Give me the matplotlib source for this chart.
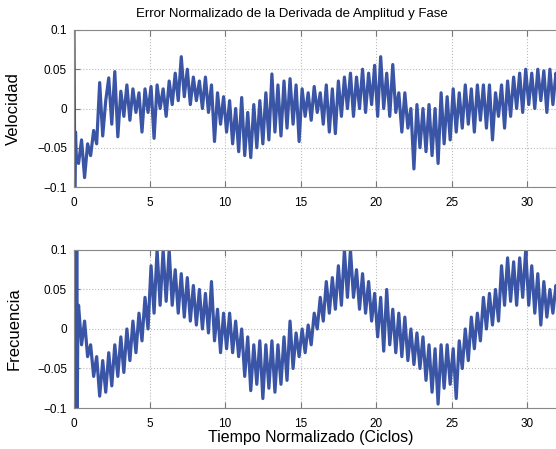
import numpy as np
import matplotlib
matplotlib.use("Agg")
import matplotlib.pyplot as plt

plt.rcParams['font.family'] = ['Liberation Sans', 'DejaVu Sans']

# ---- data ----
# first few samples: the start-up transient
t_start_vel = [0.0, 0.05, 0.1, 0.15]
vel_start = [0.1, -0.1, -0.03, -0.06]
t_start_freq = [0.0, 0.03, 0.06, 0.09, 0.12, 0.15, 0.18, 0.21, 0.25]
freq_start = [0.12, -0.12, 0.12, -0.12, 0.12, -0.12, 0.12, -0.12, 0.0]

# main samples every 0.2 cycles from 0.3 to 32.1
t_main = np.linspace(0.3, 32.1, 160)

velocidad = [
    -0.07, -0.04, -0.088, -0.045, -0.06, -0.028, -0.045, 0.033, -0.035, 0.01,
    0.039, -0.02, 0.047, -0.036, 0.022, -0.01, 0.03, -0.015, 0.025, -0.005,
    0.02, -0.03, 0.025, -0.005, 0.028, -0.038, 0.03, 0.0, 0.025, -0.01,
    0.035, 0.005, 0.045, 0.01, 0.066, 0.015, 0.05, 0.005, 0.04, 0.01,
    0.035, 0.0, 0.04, -0.005, 0.03, -0.042, 0.02, -0.02, 0.015, -0.03,
    0.01, -0.045, 0.0, -0.055, 0.014, -0.06, -0.005, -0.0625, 0.005, -0.05,
    0.01, -0.045, 0.02, -0.04, 0.044, -0.03, 0.03, -0.035, 0.035, -0.025,
    0.038, -0.02, 0.03, -0.042, 0.025, -0.01, 0.02, -0.015, 0.028, -0.005,
    0.02, -0.02, 0.03, -0.03, 0.025, -0.032, 0.035, -0.01, 0.04, 0.0,
    0.045, -0.01, 0.04, 0.0, 0.05, -0.005, 0.045, 0.005, 0.055, -0.01,
    0.066, 0.0, 0.045, -0.01, 0.056, -0.005, 0.02, -0.03, 0.02, -0.025,
    0.0, -0.077, 0.005, -0.05, 0.0, -0.055, 0.005, -0.06, 0.0, -0.07,
    0.02, -0.045, 0.015, -0.04, 0.025, -0.03, 0.02, -0.025, 0.03, -0.02,
    0.025, -0.03, 0.03, -0.015, 0.03, -0.025, 0.03, -0.04, 0.02, -0.01,
    0.03, -0.025, 0.035, -0.01, 0.04, 0.0, 0.045, -0.005, 0.05, 0.005,
    0.045, 0.0, 0.05, 0.01, 0.048, -0.005, 0.05, 0.005, 0.045, 0.02,
]

frecuencia = [
    0.03, -0.02, 0.01, -0.035, -0.02, -0.06, -0.035, -0.085, -0.04, -0.08,
    -0.03, -0.072, -0.02, -0.06, -0.01, -0.055, 0.0, -0.04, 0.01, -0.03,
    0.02, -0.015, 0.04, 0.0, 0.08, 0.02, 0.1, 0.03, 0.1, 0.035,
    0.1, 0.03, 0.075, 0.02, 0.07, 0.015, 0.065, 0.01, 0.055, 0.005,
    0.05, 0.0, 0.045, -0.005, 0.06, -0.015, 0.025, -0.03, 0.02, -0.025,
    0.02, -0.03, 0.01, -0.035, 0.0, -0.06, -0.01, -0.078, -0.02, -0.07,
    -0.015, -0.088, -0.02, -0.075, -0.015, -0.08, -0.02, -0.07, -0.01, -0.065,
    0.01, -0.05, -0.005, -0.035, 0.0, -0.03, 0.005, -0.02, 0.02, 0.0,
    0.04, 0.01, 0.06, 0.02, 0.065, 0.025, 0.08, 0.03, 0.1, 0.04,
    0.1, 0.04, 0.075, 0.025, 0.07, 0.02, 0.06, 0.01, 0.045, -0.01,
    0.04, -0.028, 0.05, -0.02, 0.025, -0.03, 0.02, -0.035, 0.015, -0.04,
    0.0, -0.045, -0.005, -0.05, -0.01, -0.065, -0.02, -0.08, -0.025, -0.095,
    -0.02, -0.075, -0.02, -0.07, -0.025, -0.088, -0.015, -0.05, 0.0, -0.04,
    0.015, -0.025, 0.02, -0.015, 0.04, 0.0, 0.045, 0.005, 0.05, 0.01,
    0.08, 0.03, 0.09, 0.035, 0.085, 0.03, 0.09, 0.04, 0.1, 0.03,
    0.08, 0.02, 0.07, 0.005, 0.06, 0.015, 0.05, 0.02, 0.055, 0.03,
]

x_ticks = [0, 5, 10, 15, 20, 25, 30]
y_ticks = [-0.1, -0.05, 0, 0.05, 0.1]
y_ticklabels = ['\u22120.1', '\u22120.05', '0', '0.05', '0.1']

line_color = '#3a55a6'

fig = plt.figure(figsize=(5.56, 4.49), dpi=100)
ax1 = fig.add_axes([0.1331, 0.5835, 0.951, 0.3497])
ax2 = fig.add_axes([0.1331, 0.0913, 0.951, 0.352])

t_vel = np.concatenate([t_start_vel, t_main])
t_freq = np.concatenate([t_start_freq, t_main])
ax1.plot(t_vel, vel_start + velocidad, '-', color=line_color, lw=2.3)
ax2.plot(t_freq, freq_start + frecuencia, '-', color=line_color, lw=2.3)

for ax in (ax1, ax2):
    ax.set_xlim(0, 35)
    ax.set_ylim(-0.1, 0.1)
    ax.set_xticks(x_ticks)
    ax.set_xticklabels([str(v) for v in x_ticks])
    ax.set_yticks(y_ticks)
    ax.set_yticklabels(y_ticklabels)
    ax.tick_params(direction='in', length=4, width=0.8, color='#777777',
                   labelsize=8.5, top=True, right=True, pad=5)
    ax.tick_params(axis='x', pad=7)
    ax.grid(True, linestyle=':', color='#bbbbbb', linewidth=0.8)
    for s in ax.spines.values():
        s.set_color('#888888')
        s.set_linewidth(0.8)

ax1.set_ylabel('Velocidad', fontsize=12)
ax2.set_ylabel('Frecuencia', fontsize=12)
ax1.yaxis.set_label_coords(-0.1, 0.5)
ax2.yaxis.set_label_coords(-0.1, 0.5)

ax2.set_xlabel('Tiempo Normalizado (Ciclos)', fontsize=11.5)
ax2.xaxis.set_label_coords(0.448, -0.14)

fig.text(0.525, 0.969, 'Error Normalizado de la Derivada de Amplitud y Fase',
         ha='center', va='center', fontsize=9.5)

fig.savefig('out.png', dpi=100)
